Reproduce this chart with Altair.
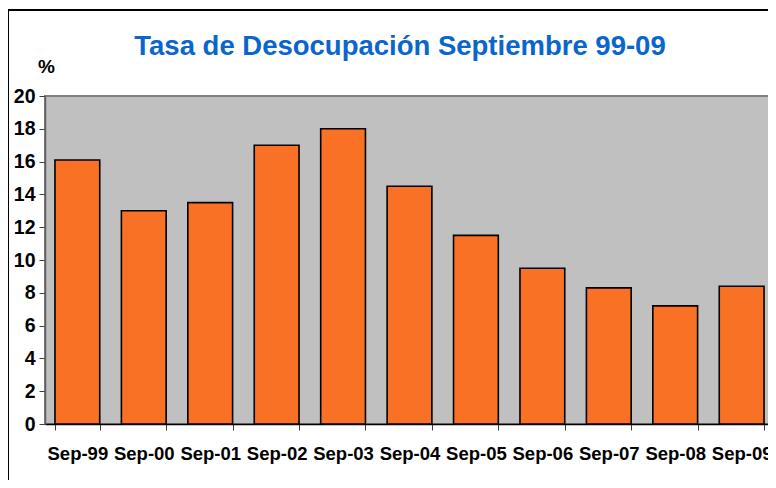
import altair as alt
import pandas as pd

categories = ["Sep-99", "Sep-00", "Sep-01", "Sep-02", "Sep-03", "Sep-04",
              "Sep-05", "Sep-06", "Sep-07", "Sep-08", "Sep-09"]
values = [16.1, 13.0, 13.5, 17.0, 18.0, 14.5, 11.5, 9.5, 8.3, 7.2, 8.4]
y_ticks = [0, 2, 4, 6, 8, 10, 12, 14, 16, 18, 20]

title_text = "Tasa de Desocupación Septiembre 99-09"
y_title = "%"

df = pd.DataFrame({"cat": categories, "val": values})
title_df = pd.DataFrame({"t": [title_text]})

W, H = 729, 328
FONT = "Liberation Sans"

bars = alt.Chart(df).mark_bar(
    fill="#F87125", stroke="#000000", strokeWidth=1.6
).encode(
    x=alt.X("cat:N", sort=categories,
            scale=alt.Scale(paddingInner=0.326, paddingOuter=0.15),
            axis=alt.Axis(title=None, labelAngle=0, labelFont=FONT,
                          labelFontSize=18.5, labelFontWeight="bold",
                          labelColor="#000000", labelPadding=14,
                          tickBand="extent", tickSize=6, tickColor="#404040",
                          domainColor="#000000", domainWidth=1.5,
                          labelOverlap=False, labelBound=False)),
    y=alt.Y("val:Q", scale=alt.Scale(domain=[0, 20], nice=False),
            axis=alt.Axis(values=y_ticks, title=y_title, titleAngle=0,
                          titleAlign="center", titleBaseline="bottom",
                          titleX=1, titleY=-20, titleFont=FONT,
                          titleFontSize=19, titleFontWeight="bold",
                          titleColor="#000000",
                          labelFont=FONT, labelFontSize=19.5,
                          labelFontWeight="bold", labelColor="#000000",
                          labelPadding=4, tickSize=6, tickColor="#404040",
                          domainColor="#606060", domainWidth=1.5,
                          grid=False)),
)

title_mark = alt.Chart(title_df).mark_text(
    font=FONT, fontSize=27.5, fontWeight="bold", color="#0A66CC",
    align="center", baseline="alphabetic", clip=False
).encode(
    text="t:N", x=alt.value(355), y=alt.value(-41)
)

frame_left = alt.Chart(df).mark_rule(color="#000000", strokeWidth=2, clip=False).encode(
    x=alt.value(-37), y=alt.value(-86), y2=alt.value(H + 80)
)
frame_top = alt.Chart(df).mark_rule(color="#000000", strokeWidth=2, clip=False).encode(
    x=alt.value(-37), x2=alt.value(W + 20), y=alt.value(-86)
)

chart = alt.layer(frame_left, frame_top, bars, title_mark).properties(
    width=W, height=H,
    autosize=alt.AutoSizeParams(type="none"),
    padding={"left": 37, "top": 88, "right": -6, "bottom": 56},
    background="#FFFFFF",
).configure_view(
    fill="#C0C0C0", stroke="#808080", strokeWidth=2
)

chart.save("out.html", embed_options={"renderer": "svg", "actions": False})
